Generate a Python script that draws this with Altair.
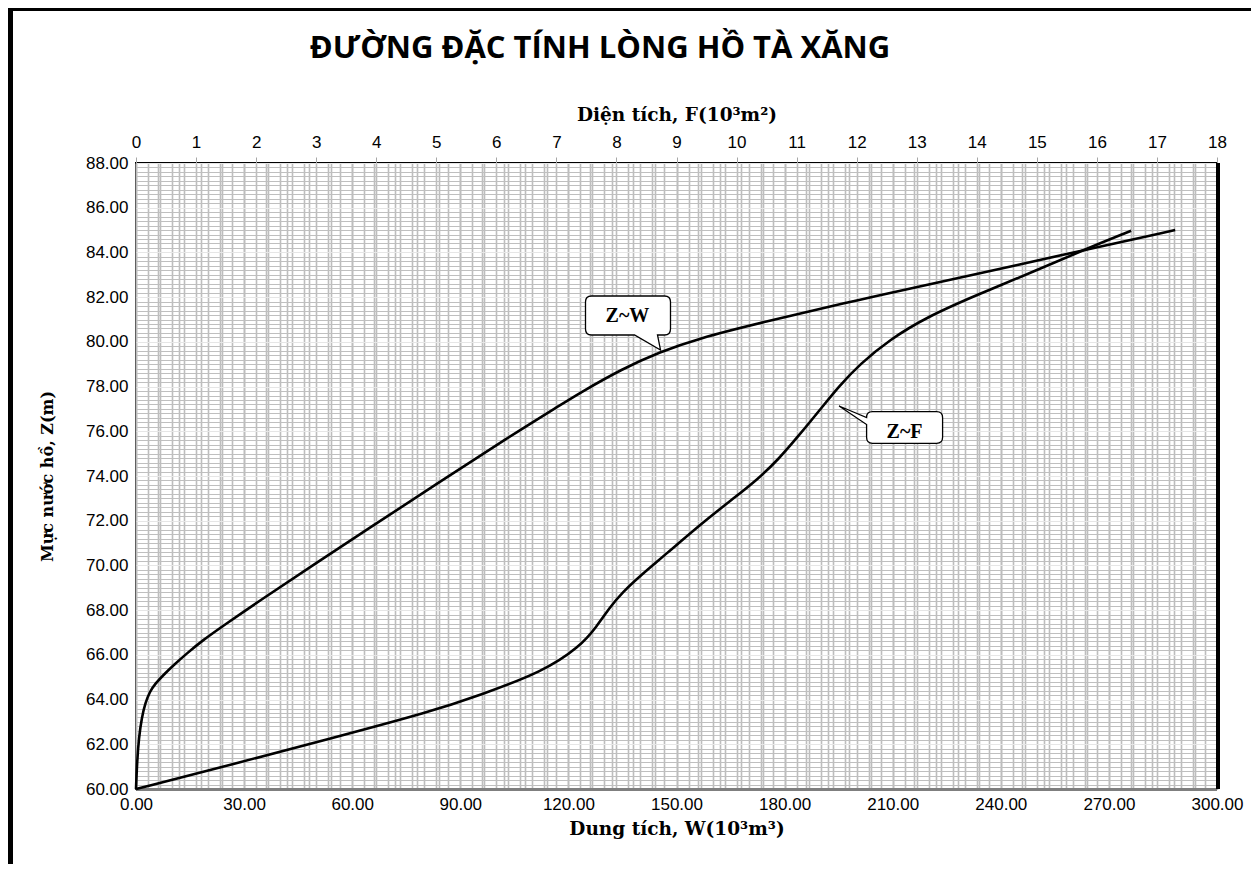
import altair as alt
import pandas as pd

# ---- data ----
# Z~W : dung tích W (10^3 m3) vs mực nước Z (m)
zw_W = [0.0, 0.3, 0.8, 1.6, 2.6, 3.8, 5.4, 7.6, 10.5, 14.0, 18.5, 24.2, 35.0, 50.0, 65.0,
        84.0, 103.0, 118.0, 123.0, 135.0, 145.4, 156.0, 173.2, 201.0, 226.8, 262.9, 288.4]
zw_Z = [60.0, 61.2, 62.3, 63.2, 63.85, 64.35, 64.72, 65.1, 65.55, 66.05, 66.65, 67.3, 68.5, 70.1, 71.7,
        73.7, 75.7, 77.2, 77.7, 78.8, 79.55, 80.15, 80.85, 81.9, 82.8, 84.1, 85.0]
# Z~F : diện tích F (10^3 m2) vs mực nước Z (m)
zf_F = [0.0, 1.6, 3.23, 4.9, 5.73, 6.78, 7.39, 7.67, 7.88, 8.1, 8.4, 8.8, 9.45, 9.95, 10.35,
        10.7, 11.05, 11.4, 11.7, 12.05, 12.55, 13.16, 14.0, 15.0, 15.77, 16.57]
zf_Z = [60.0, 61.1, 62.25, 63.45, 64.2, 65.25, 66.36, 67.26, 68.1, 68.8, 69.55, 70.45, 71.95, 73.0, 73.85,
        74.75, 75.85, 77.0, 78.0, 79.0, 80.1, 81.1, 82.1, 83.2, 84.1, 84.97]

# axis ticks / grid positions
w_ticks = list(range(0, 301, 6))                       # labels every 30
f_ticks = [round(i * 0.2, 1) for i in range(0, 91)]    # labels every 1
z_ticks = [round(60 + i * 0.2, 1) for i in range(0, 141)]  # labels every 2

# callout labels (anchored in W / Z data units)
callout_text = ["Z~W", "Z~F"]
callout_W = [136.4, 213.3]
callout_Z = [81.18, 76.17]
callout_text_Z = [81.15, 75.95]

TITLE = "ĐƯỜNG ĐẶC TÍNH LÒNG HỒ TÀ XĂNG"

PW, PH = 1081, 626

df_w = pd.DataFrame({"W": zw_W, "Z": zw_Z})
df_f = pd.DataFrame({"F": zf_F, "Z": zf_Z})
df_call = pd.DataFrame({"label": callout_text, "W": callout_W, "Z": callout_Z, "Zt": callout_text_Z})
one = pd.DataFrame({"a": [0]})

serif = "Liberation Serif"
tserif = "DejaVu Serif"
sans = "Liberation Sans"
LBL = 17

y_major = "abs(datum.value/2 - round(datum.value/2)) < 0.01"
y_scale = alt.Scale(domain=[60, 88], nice=False, zero=False)
y_axis = alt.Axis(
    values=z_ticks, tickCount=1000,
    labelExpr=f"{y_major} ? format(datum.value, '.2f') : ''",
    title="Mực nước hồ, Z(m)",
    titleFont=tserif, titleFontSize=16, titleFontWeight="bold", titleColor="black",
    labelFont=sans, labelFontSize=LBL, labelColor="black",
    labelPadding=8, titlePadding=30,
    ticks=False, domain=False, grid=True,
    gridColor={"condition": {"test": y_major, "value": "#E6E6E6"}, "value": "#BFBFBF"},
    gridWidth=1.1, labelOverlap=False, labelFlush=False,
)

w_axis = alt.Axis(
    orient="bottom", values=w_ticks, tickCount=1000,
    labelExpr="datum.value % 30 == 0 ? format(datum.value, '.2f') : ''",
    title="Dung tích, W(10³m³)",
    titleFont=tserif, titleFontSize=18.5, titleFontWeight="bold", titleColor="black",
    labelFont=sans, labelFontSize=LBL, labelColor="black",
    labelPadding=7, titlePadding=7,
    ticks=False, domain=False, grid=True, gridColor="#BDBDBD", gridWidth=1.6,
    labelOverlap=False, labelFlush=False,
)

f_int = "abs(datum.value - round(datum.value)) < 0.01"
f_axis = alt.Axis(
    orient="top", values=f_ticks, tickCount=1000,
    labelExpr=f"{f_int} ? format(round(datum.value), 'd') : ''",
    title="Diện tích, F(10³m²)",
    titleFont=tserif, titleFontSize=18.5, titleFontWeight="bold", titleColor="black",
    labelFont=sans, labelFontSize=LBL, labelColor="black",
    labelPadding=6, titlePadding=9,
    ticks=True, tickSize=6, tickColor="#A6A6A6", tickWidth=1,
    tickOpacity={"condition": {"test": f_int, "value": 1}, "value": 0},
    domain=False, grid=True, gridColor="#BDBDBD", gridWidth=1.6,
    labelOverlap=False, labelFlush=False,
)

line_w = alt.Chart(df_w).mark_line(
    color="black", strokeWidth=2.6, interpolate="basis"
).encode(
    x=alt.X("W:Q", scale=alt.Scale(domain=[0, 300], nice=False), axis=w_axis),
    y=alt.Y("Z:Q", scale=y_scale, axis=y_axis),
    order=alt.Order("Z:Q"),
)

r = 50  # balloon path unit = r px (size = (2r)^2)
path_zw = ("M -0.72,-0.39 L 0.74,-0.39 Q 0.86,-0.39 0.86,-0.27 L 0.86,0.27 "
           "Q 0.86,0.39 0.74,0.39 L 0.60,0.39 L 0.66,0.69 L 0.14,0.39 L -0.72,0.39 "
           "Q -0.84,0.39 -0.84,0.27 L -0.84,-0.27 Q -0.84,-0.39 -0.72,-0.39 Z")
path_zf = ("M -0.64,-0.316 L 0.64,-0.316 Q 0.76,-0.316 0.76,-0.196 L 0.76,0.196 "
           "Q 0.76,0.316 0.64,0.316 L -0.64,0.316 Q -0.76,0.316 -0.76,0.196 "
           "L -0.76,-0.06 L -1.31,-0.43 L -0.76,-0.2 Q -0.76,-0.316 -0.64,-0.316 Z")

def balloon(label, path):
    return alt.Chart(df_call).transform_filter(alt.datum.label == label).mark_point(
        shape=path, size=(2 * r) ** 2, filled=True, fill="white", stroke="black",
        strokeWidth=1.3, opacity=1, fillOpacity=1, strokeOpacity=1,
    ).encode(x="W:Q", y="Z:Q")

balloon_w = balloon("Z~W", path_zw)
balloon_f = balloon("Z~F", path_zf)

call_text = alt.Chart(df_call).mark_text(
    font=serif, fontSize=20, fontWeight="bold", color="black", align="center", baseline="middle"
).encode(x="W:Q", y="Zt:Q", text="label:N")

title_text = alt.Chart(one).mark_text(
    text=TITLE, font="Open Sans", fontSize=31, fontWeight="bold", color="black",
    align="center", baseline="middle",
).encode(x=alt.value(464), y=alt.value(-114))

# frame decorations (plot right/bottom edges, outer border left/top)
right_edge = alt.Chart(one).mark_rule(color="black", strokeWidth=4).encode(
    x=alt.value(PW + 1), y=alt.value(0), y2=alt.value(PH))
bottom_edge = alt.Chart(one).mark_rule(color="#7F7F7F", strokeWidth=3).encode(
    x=alt.value(0), x2=alt.value(PW), y=alt.value(PH + 0.5))
outer_left = alt.Chart(one).mark_rule(color="black", strokeWidth=5).encode(
    x=alt.value(-125.5), y=alt.value(-155), y2=alt.value(PH + 75))
outer_top = alt.Chart(one).mark_rule(color="black", strokeWidth=3).encode(
    x=alt.value(-128), x2=alt.value(PW + 34), y=alt.value(-153.5))

layer_w = alt.layer(bottom_edge, line_w, right_edge, balloon_w, balloon_f, call_text,
                    title_text, outer_left, outer_top)

line_f = alt.Chart(df_f).mark_line(
    color="black", strokeWidth=2.6, interpolate="basis"
).encode(
    x=alt.X("F:Q", scale=alt.Scale(domain=[0, 18], nice=False), axis=f_axis),
    y=alt.Y("Z:Q", scale=y_scale, axis=y_axis),
    order=alt.Order("Z:Q"),
)

chart = alt.layer(layer_w, line_f).resolve_scale(x="independent").properties(
    width=PW, height=PH,
    autosize=alt.AutoSizeParams(type="none"),
    padding={"left": 128, "top": 155, "right": 34, "bottom": 75},
    background="white",
).configure_view(stroke="black", strokeWidth=2)

chart.save("out.html", embed_options={"renderer": "svg", "actions": False})
